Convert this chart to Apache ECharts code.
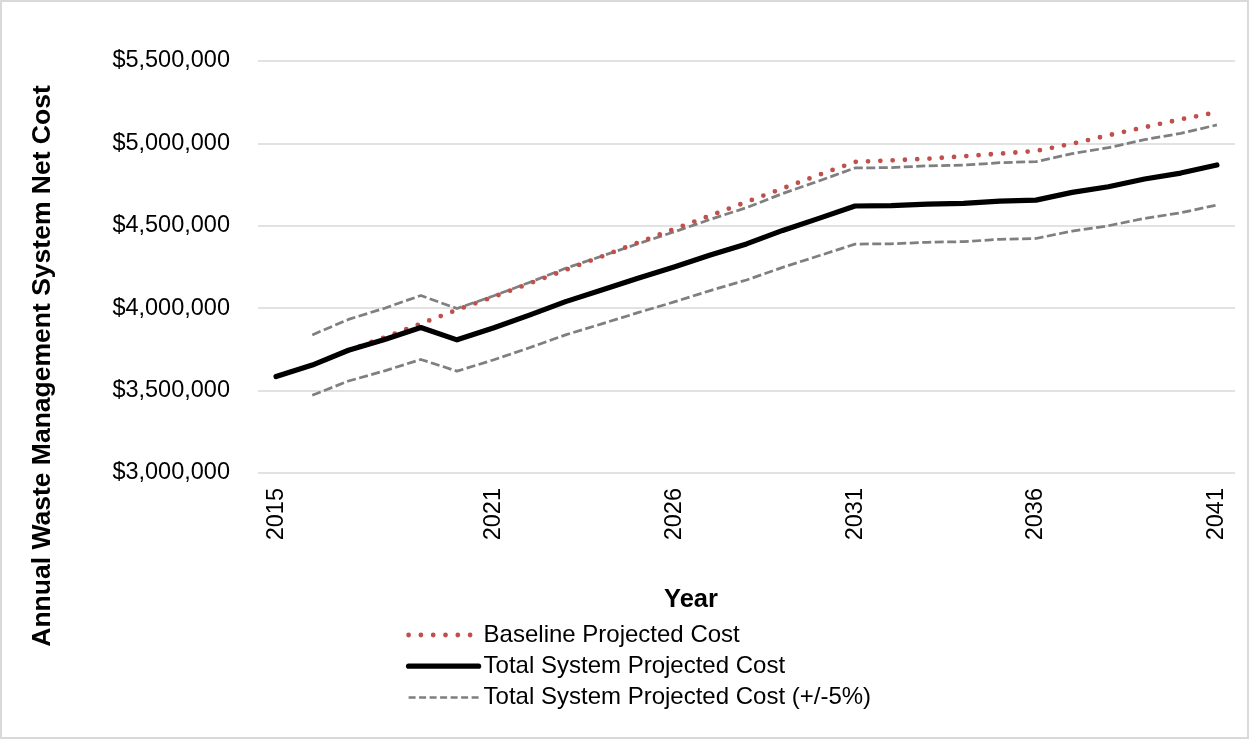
<!DOCTYPE html>
<html>
<head>
<meta charset="utf-8">
<script src="https://cdn.jsdelivr.net/npm/echarts@6/dist/echarts.min.js"></script>
<style>
  html, body { margin: 0; padding: 0; background: #ffffff; }
  #chart { width: 1250px; height: 740px; }
</style>
</head>
<body>
<div id="chart"></div>
<script>
// Years on the category axis
const years = ['2015','2016','2017','2018','2019','2020','2021','2022','2023','2024','2025','2026','2027',
  '2028','2029','2030','2031','2032','2033','2034','2035','2036','2037','2038','2039','2040','2041'];

// Years that carry a tick label
const xTickYears = ['2015','2021','2026','2031','2036','2041'];

// Baseline projected cost ($)
const baselineCost = [null, null, 3745000, 3823000, 3906000, 3990000, 4068000, 4150000, 4232000, 4314000,
  4398000, 4480000, 4562000, 4645000, 4727000, 4809000, 4888000, 4897000, 4907000, 4922000, 4938000,
  4954000, 4998000, 5049000, 5098000, 5146000, 5189000];

// Total system projected cost ($)
const totalCost = [3585000, 3655000, 3745000, 3810000, 3883000, 3808000, 3880000, 3958000, 4040000,
  4110000, 4182000, 4250000, 4323000, 4390000, 4472000, 4545000, 4620000, 4622000, 4632000, 4636000,
  4650000, 4656000, 4703000, 4737000, 4784000, 4820000, 4869000];

// Upper band (+5%)
const upperCost = [null, 3838000, 3932000, 4000000, 4077000, 3998000, 4074000, 4156000, 4242000,
  4316000, 4391000, 4463000, 4539000, 4610000, 4696000, 4772000, 4851000, 4853000, 4864000, 4868000,
  4883000, 4889000, 4938000, 4974000, 5023000, 5061000, 5112000];

// Lower band (-5%)
const lowerCost = [null, 3472000, 3558000, 3620000, 3689000, 3618000, 3686000, 3760000, 3838000,
  3905000, 3973000, 4038000, 4107000, 4171000, 4248000, 4318000, 4389000, 4391000, 4400000, 4404000,
  4418000, 4423000, 4468000, 4500000, 4545000, 4579000, 4626000];

// Value axis range and step
const yMin = 3000000;
const yMax = 5500000;
const yStep = 500000;

const FONT = '"Liberation Sans", Arial, sans-serif';
const NAME_BASE = 'Baseline Projected Cost';
const NAME_TOTAL = 'Total System Projected Cost';
const NAME_BAND = 'Total System Projected Cost (+/-5%)';

const styleBase = { color: '#c0504d', width: 4.8, type: [0, 12.3], cap: 'round', join: 'round' };
const styleTotal = { color: '#000000', width: 5.2, type: 'solid', cap: 'round', join: 'round' };
const styleBand = { color: '#7f7f7f', width: 2.75, type: [9, 3.5], cap: 'butt', join: 'round' };

function money(v) {
  return '$' + Math.round(v).toString().replace(/\B(?=(\d{3})+(?!\d))/g, ',');
}

const chart = echarts.init(document.getElementById('chart'), null, { renderer: 'canvas' });

chart.setOption({
  animation: false,
  backgroundColor: '#ffffff',
  textStyle: { fontFamily: FONT },
  grid: { left: 258, right: 15, top: 61, bottom: 267, containLabel: false },
  xAxis: {
    type: 'category',
    data: years,
    boundaryGap: true,
    axisLine: { show: false },
    axisTick: { show: false },
    splitLine: { show: false },
    axisLabel: {
      rotate: 90,
      margin: 15,
      interval: (i, v) => xTickYears.includes(v),
      fontSize: 23.5,
      color: '#000000',
      fontFamily: FONT
    }
  },
  yAxis: {
    type: 'value',
    min: yMin,
    max: yMax,
    interval: yStep,
    axisLine: { show: false },
    axisTick: { show: false },
    splitLine: { show: true, lineStyle: { color: '#d9d9d9', width: 1.5 } },
    axisLabel: {
      margin: 28,
      fontSize: 23.5,
      color: '#000000',
      fontFamily: FONT,
      formatter: money
    }
  },
  legend: {
    orient: 'vertical',
    left: 406,
    top: 623,
    padding: 0,
    itemWidth: 70,
    itemHeight: 14,
    itemGap: 7.2,
    itemStyle: { opacity: 0 },
    textStyle: { fontSize: 24, lineHeight: 24, color: '#000000', fontFamily: FONT },
    data: [
      { name: NAME_BASE, lineStyle: styleBase },
      { name: NAME_TOTAL, lineStyle: styleTotal },
      { name: NAME_BAND, lineStyle: { color: '#7f7f7f', width: 2.5, type: [7, 3.5], cap: 'butt' } }
    ]
  },
  graphic: [
    {
      type: 'rect',
      silent: true,
      shape: { x: 1, y: 1, width: 1247, height: 737 },
      style: { fill: 'none', stroke: '#d9d9d9', lineWidth: 2 }
    },
    {
      type: 'text',
      silent: true,
      x: 43,
      y: 366,
      rotation: Math.PI / 2,
      style: {
        text: 'Annual Waste Management System Net Cost',
        font: 'bold 26.5px ' + FONT,
        fill: '#000000',
        align: 'center',
        verticalAlign: 'middle'
      }
    },
    {
      type: 'text',
      silent: true,
      x: 691,
      y: 600,
      style: {
        text: 'Year',
        font: 'bold 25.5px ' + FONT,
        fill: '#000000',
        align: 'center',
        verticalAlign: 'middle'
      }
    }
  ],
  series: [
    { name: NAME_BAND, type: 'line', data: upperCost, symbol: 'none', lineStyle: styleBand, z: 2 },
    { name: NAME_BAND, type: 'line', data: lowerCost, symbol: 'none', lineStyle: styleBand, z: 2 },
    { name: NAME_BASE, type: 'line', data: baselineCost, symbol: 'none', lineStyle: styleBase, z: 3 },
    { name: NAME_TOTAL, type: 'line', data: totalCost, symbol: 'none', lineStyle: styleTotal, z: 4 }
  ]
});
</script>
</body>
</html>
